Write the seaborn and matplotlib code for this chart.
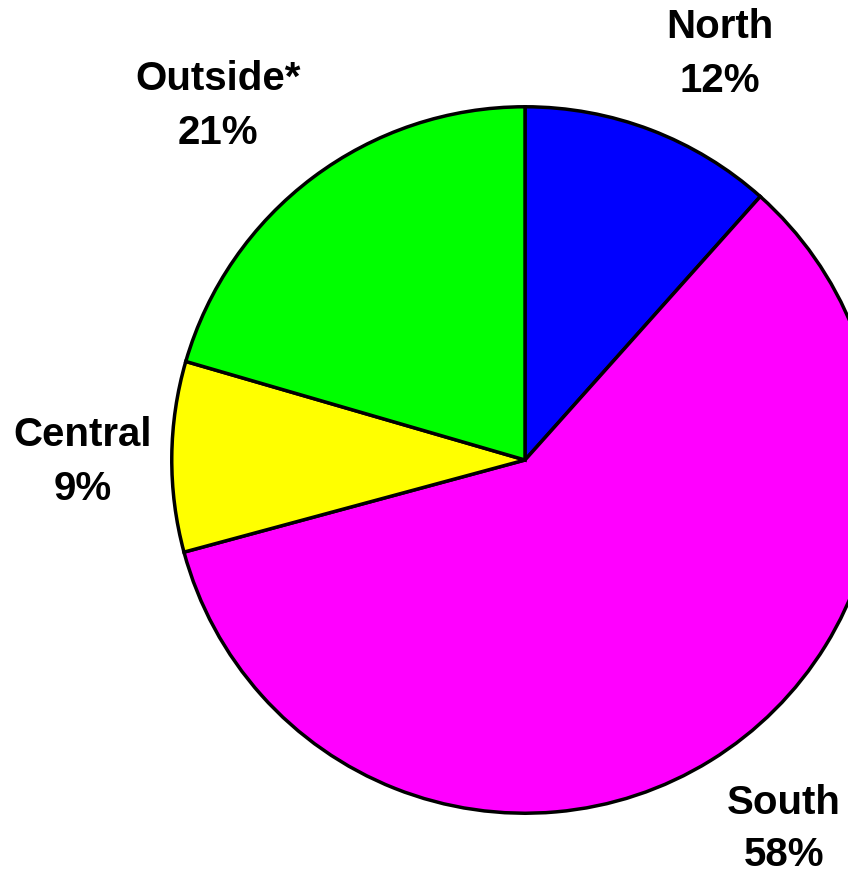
import matplotlib
matplotlib.use("Agg")
import matplotlib.pyplot as plt
import seaborn as sns

sns.set_theme(style="white")
plt.rcParams['font.family'] = ['Liberation Sans', 'DejaVu Sans']

# Data
regions = ["North", "South", "Central", "Outside*"]
shares = [11.6, 59.2, 8.7, 20.5]          # wedge sizes
label_pct = ["12%", "58%", "9%", "21%"]   # percentages as printed
colors = ["#0000FF", "#FF00FF", "#FFFF00", "#00FF00"]

W, H, DPI = 848, 876, 100
fig = plt.figure(figsize=(W / DPI, H / DPI), dpi=DPI)
fig.patch.set_facecolor("white")

cx, cy, r = 525, 460, 355
ax = fig.add_axes([(cx - r) / W, (H - cy - r) / H, 2 * r / W, 2 * r / H])
ax.pie(shares, colors=colors, startangle=90, counterclock=False, radius=1,
       wedgeprops=dict(edgecolor="black", linewidth=2.5), frame=False)
ax.set_xlim(-1.005, 1.005)
ax.set_ylim(-1.005, 1.005)
ax.set_aspect("equal")
ax.axis("off")

label_pos = {"North": (720, 54), "South": (784, 829),
             "Central": (83, 462), "Outside*": (218, 106)}
for name, pct in zip(regions, label_pct):
    x, y = label_pos[name]
    fig.text(x / W, 1 - y / H, f"{name}\n{pct}", ha="center", va="center",
             multialignment="center", fontsize=29, fontweight="bold",
             color="black", linespacing=1.5)

fig.savefig("out.png", dpi=DPI, facecolor="white")
